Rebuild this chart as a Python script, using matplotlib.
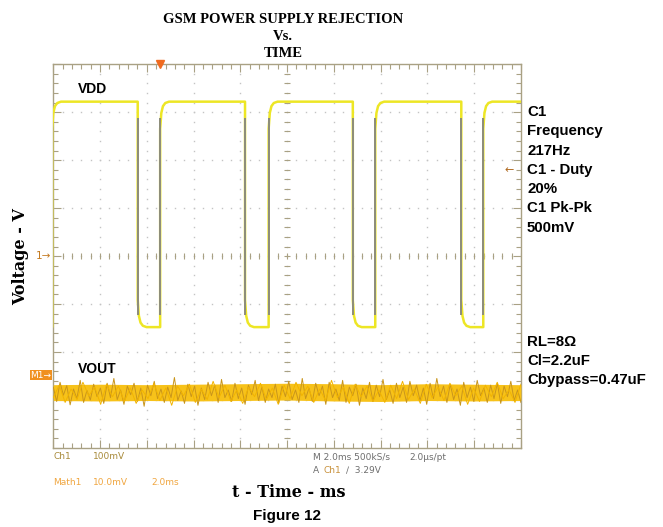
import numpy as np
import matplotlib
matplotlib.use("Agg")
import matplotlib.pyplot as plt
from matplotlib.ticker import MultipleLocator

# time in ms (2 ms/div), voltage in scope divisions
falls = [3.61, 8.20, 12.81, 17.45]
rises = [-0.05, 4.57, 9.21, 13.77, 18.39]
vdd_high = 3.22
vdd_low = -1.48
# rounded corner after an edge: (ms after edge, fraction of step still missing)
corner_t = [0.0, 0.05, 0.12, 0.22, 0.38]
corner_f = [0.12, 0.05, 0.02, 0.006, 0.0]

vout_level = -2.85
band_t = [0, 2, 4, 6, 8, 10, 12, 14, 16, 18, 20]
band_top = [0.17, 0.18, 0.17, 0.18, 0.19, 0.2, 0.19, 0.17, 0.19, 0.18, 0.17]
band_bot = [-0.16, -0.17, -0.16, -0.17, -0.16, -0.15, -0.17, -0.18, -0.16, -0.17, -0.16]
noise_a = [0.12, -0.18, 0.22, -0.05, 0.15, -0.25, 0.08, -0.12, 0.26, -0.2, 0.05, -0.15, 0.18, -0.08,
           0.1, -0.22, 0.2, -0.1, 0.3, -0.14, 0.06, -0.24, 0.14, -0.04, 0.2, -0.18, 0.1, -0.28,
           0.16, -0.06, 0.24, -0.12, 0.08, -0.2, 0.12, -0.1, 0.32, -0.16, 0.04, -0.22, 0.18, -0.08,
           0.14, -0.26, 0.1, -0.14, 0.22, -0.06, 0.16, -0.2, 0.28, -0.1, 0.06, -0.18, 0.2, -0.12,
           0.1, -0.24, 0.16, -0.04, 0.26, -0.16, 0.12, -0.2, 0.08, -0.1, 0.18, -0.22, 0.14, -0.08,
           0.24, -0.14, 0.06, -0.2, 0.3, -0.12, 0.1, -0.18, 0.2, -0.06, 0.14, -0.24, 0.22, -0.1,
           0.08, -0.16, 0.26, -0.2, 0.12, -0.06, 0.18, -0.26, 0.1, -0.12, 0.22, -0.18, 0.16, -0.08,
           0.28, -0.14, 0.06, -0.22, 0.2, -0.1, 0.12, -0.2, 0.24, -0.06, 0.16, -0.16, 0.1, -0.24,
           0.2, -0.12, 0.3, -0.08, 0.14, -0.2, 0.18, -0.14, 0.08, -0.26, 0.22, -0.1, 0.12, -0.18,
           0.26, -0.06, 0.1, -0.2, 0.16, -0.12, 0.2, -0.22, 0.14, -0.08, 0.24, -0.16, 0.06, -0.2]
noise_b = [-0.1, 0.16, -0.2, 0.08, -0.14, 0.22, -0.06, 0.12, -0.24, 0.18, -0.08, 0.14, -0.18, 0.1,
           -0.22, 0.06, -0.12, 0.2, -0.16, 0.1, -0.26, 0.14, -0.06, 0.18, -0.2, 0.08, -0.14, 0.24,
           -0.1, 0.16, -0.18, 0.06, -0.22, 0.12, -0.08, 0.2, -0.14, 0.1, -0.24, 0.16, -0.12, 0.22,
           -0.06, 0.14, -0.2, 0.08, -0.16, 0.26, -0.1, 0.12, -0.22, 0.18, -0.08, 0.14, -0.18, 0.06,
           -0.2, 0.16, -0.12, 0.24, -0.14, 0.08, -0.22, 0.18, -0.1, 0.12, -0.16, 0.2, -0.06, 0.14,
           -0.24, 0.1, -0.18, 0.16, -0.08, 0.22, -0.12, 0.06, -0.2, 0.18]

right_info = ["C1", "Frequency", "217Hz", "C1 - Duty", "20%", "C1 Pk-Pk", "500mV"]
right_cond = ["RL=8\u03a9", "Cl=2.2uF", "Cbypass=0.47uF"]
trig_level = 1.8

grid_col = "#c4c4c4"
frame_col = "#a9a184"


def corner(t0, target, step):
    ts = [t0 + c for c in corner_t]
    vs = [target - step * f for f in corner_f]
    return ts, vs


# build VDD trace from edge times
tt = [-1.0]
vv = [vdd_low]
events = sorted([(t, "r") for t in rises] + [(t, "f") for t in falls])
for t, kind in events:
    tt.append(t)
    vv.append(vv[-1])
    if kind == "r":
        ts, vs = corner(t, vdd_high, vdd_high - vdd_low)
    else:
        ts, vs = corner(t, vdd_low, vdd_low - vdd_high)
    tt += ts
    vv += vs
tt.append(20.5)
vv.append(vv[-1])

fig = plt.figure(figsize=(6.63, 5.27), dpi=100)
ax = fig.add_axes([0.0804, 0.1499, 0.7053, 0.7282])
ax.set_xlim(0, 20)
ax.set_ylim(-4, 4)

# graticule: dotted major lines
for gx in np.arange(2, 20, 2):
    ax.plot([gx] * 41, np.linspace(-4, 4, 41), ls="none", marker="s", ms=1.0,
            color=grid_col, mec="none")
for gy in np.arange(-3, 4, 1):
    ax.plot(np.linspace(0, 20, 51), [gy] * 51, ls="none", marker="s", ms=1.0,
            color=grid_col, mec="none")
# centre crosshair ticks
ax.plot(np.arange(0, 20.01, 0.4), np.zeros(51), ls="none", marker="|", ms=5,
        color=frame_col, mew=0.8)
ax.plot(np.full(41, 10.0), np.arange(-4, 4.01, 0.2), ls="none", marker="_", ms=5,
        color=frame_col, mew=0.8)

ax.xaxis.set_major_locator(MultipleLocator(2))
ax.xaxis.set_minor_locator(MultipleLocator(0.4))
ax.yaxis.set_major_locator(MultipleLocator(1))
ax.yaxis.set_minor_locator(MultipleLocator(0.2))
ax.tick_params(which="both", direction="in", top=True, right=True, colors=frame_col,
               labelbottom=False, labelleft=False)
ax.tick_params(which="major", length=6, width=0.8)
ax.tick_params(which="minor", length=3.5, width=0.8)
for s in ax.spines.values():
    s.set_color(frame_col)
    s.set_linewidth(1.0)

# VOUT noise band
ax.fill_between(band_t, [vout_level + b for b in band_bot], [vout_level + b for b in band_top],
                color="#f7c21a", lw=0, zorder=3)
ax.plot(np.linspace(0, 20, len(noise_a)), [vout_level + n for n in noise_a],
        color="#c9951a", lw=0.7, zorder=4)
ax.plot(np.linspace(0, 20, len(noise_b)), [vout_level + n for n in noise_b],
        color="#f2b400", lw=0.7, zorder=4)

# VDD trace
ax.plot(tt, vv, color="#ede625", lw=1.8, zorder=5, solid_joinstyle="round")
ax.vlines(falls + rises, vdd_low + 0.25, vdd_high - 0.35, color="#8c8c7c", lw=1.4, zorder=6)

# markers
ax.plot(rises[1], 4, marker="v", color="#f06a1e", ms=5.5, clip_on=False, zorder=7)
ax.text(0.985, (trig_level + 4) / 8, "\u2190", transform=ax.transAxes, ha="right",
        va="center", color="#b06a20", fontsize=8)
ax.text(-0.005, 0.5, "1\u2192", transform=ax.transAxes, ha="right", va="center",
        color="#c47a20", fontsize=7.5)
ax.text(-0.004, (vout_level + 0.37 + 4) / 8, "M1\u2192", transform=ax.transAxes, ha="right",
        va="center", color="white", fontsize=6.5,
        bbox=dict(boxstyle="square,pad=0.1", fc="#f0901e", ec="none"))

ax.text(0.053, 0.925, "VDD", transform=ax.transAxes, fontsize=10, fontweight="bold",
        family="Liberation Sans")
ax.text(0.053, 0.195, "VOUT", transform=ax.transAxes, fontsize=10, fontweight="bold",
        family="Liberation Sans")

# titles and axis labels
fig.text(0.427, 0.963, "GSM POWER SUPPLY REJECTION", ha="center", va="center",
         fontsize=10.5, fontweight="bold", family="Liberation Serif")
fig.text(0.427, 0.931, "Vs.", ha="center", va="center", fontsize=10.5, fontweight="bold",
         family="Liberation Serif")
fig.text(0.427, 0.899, "TIME", ha="center", va="center", fontsize=10.5, fontweight="bold",
         family="Liberation Serif")
fig.text(0.031, 0.514, "Voltage - V", rotation=90, ha="center", va="center", fontsize=11.5,
         fontweight="bold", family="DejaVu Serif")
fig.text(0.436, 0.066, "t - Time - ms", ha="center", va="center", fontsize=11.5,
         fontweight="bold", family="DejaVu Serif")
fig.text(0.433, 0.02, "Figure 12", ha="center", va="center", fontsize=11,
         fontweight="bold", family="Liberation Sans")

# right-hand readouts
for i, s in enumerate(right_info):
    fig.text(0.795, 0.787 - i * 0.0365, s, ha="left", va="center", fontsize=10.8,
             fontweight="bold", family="Liberation Sans")
for i, s in enumerate(right_cond):
    fig.text(0.795, 0.351 - i * 0.0365, s, ha="left", va="center", fontsize=10.8,
             fontweight="bold", family="Liberation Sans")

# scope status lines
small = dict(fontsize=6.5, family="DejaVu Sans", va="center", ha="left")
fig.text(0.08, 0.134, "Ch1", color="#a88a3a", **small)
fig.text(0.14, 0.134, "100mV", color="#a88a3a", **small)
fig.text(0.08, 0.085, "Math1", color="#f0a640", **small)
fig.text(0.14, 0.085, "10.0mV", color="#f0a640", **small)
fig.text(0.228, 0.085, "2.0ms", color="#f0a640", **small)
fig.text(0.472, 0.132, "M 2.0ms 500kS/s", color="#6e6e6e", **small)
fig.text(0.618, 0.132, "2.0\u00b5s/pt", color="#6e6e6e", **small)
fig.text(0.472, 0.108, "A", color="#6e6e6e", **small)
fig.text(0.488, 0.108, "Ch1", color="#c8903a", **small)
fig.text(0.522, 0.108, "\u2215  3.29V", color="#6e6e6e", **small)

fig.savefig("out.png", dpi=100)
